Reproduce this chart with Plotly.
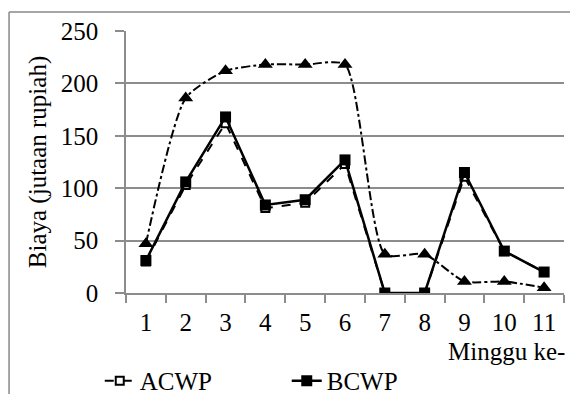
import plotly.graph_objects as go

weeks = ["1", "2", "3", "4", "5", "6", "7", "8", "9", "10", "11"]
acwp = [30, 103, 162, 81, 86, 123, 0, 0, 111, 40, 20]
bcwp = [31, 106, 168, 84, 89, 127, 0, 0, 115, 40, 20]
bcws = [47, 186, 212, 218, 218, 218, 37, 37, 11, 11, 5]
y_ticks = [0, 50, 100, 150, 200, 250]

FONT = "Liberation Serif, DejaVu Serif, serif"
FS = 25
GRID = "#8c8c8c"

fig = go.Figure()
fig.add_trace(go.Scatter(
    x=weeks, y=acwp, name="ACWP", mode="lines+markers",
    line=dict(color="black", width=2, dash="dash"),
    marker=dict(symbol="square", size=8, color="white",
                line=dict(color="black", width=2)),
))
fig.add_trace(go.Scatter(
    x=weeks, y=bcwp, name="BCWP", mode="lines+markers",
    line=dict(color="black", width=2.5),
    marker=dict(symbol="square", size=11, color="black"),
))
fig.add_trace(go.Scatter(
    x=weeks, y=bcws, name="BCWS", mode="lines+markers", showlegend=False,
    line=dict(color="black", width=2, dash="dashdot", shape="spline", smoothing=0.6),
    marker=dict(symbol="triangle-up", size=13, color="black"),
))

fig.update_layout(
    width=570, height=394,
    margin=dict(l=126, r=6, t=31, b=101),
    paper_bgcolor="white", plot_bgcolor="white",
    font=dict(family=FONT, size=FS, color="black"),
    showlegend=True,
    legend=dict(orientation="h", xref="container", yref="container",
                x=0.175, xanchor="left", y=0.033, yanchor="middle",
                font=dict(family=FONT, size=FS), entrywidth=142,
                bgcolor="rgba(0,0,0,0)", itemsizing="trace"),
    xaxis=dict(
        type="category", range=[-0.5, 10.5], tickson="boundaries",
        ticks="outside", ticklen=8, tickcolor=GRID, tickwidth=1.5,
        showline=True, linecolor=GRID, linewidth=1.5, showgrid=False,
        zeroline=False, ticklabelstandoff=6,
        tickfont=dict(family=FONT, size=FS),
    ),
    yaxis=dict(
        range=[0, 250], tickvals=y_ticks,
        ticks="outside", ticklen=9, tickcolor=GRID, tickwidth=1.5,
        showline=True, linecolor=GRID, linewidth=1.5,
        showgrid=True, gridcolor=GRID, gridwidth=1.5, zeroline=False,
        ticklabelstandoff=12,
        tickfont=dict(family=FONT, size=FS),
        title=dict(text="Biaya (jutaan rupiah)", font=dict(family=FONT, size=FS), standoff=7),
    ),
    annotations=[dict(
        text="Minggu ke-", xref="paper", yref="paper", x=1.007, y=-0.225,
        xanchor="right", yanchor="middle", showarrow=False,
        font=dict(family=FONT, size=FS),
    )],
    shapes=[
        dict(type="line", xref="paper", yref="paper", x0=-0.267, x1=1.2,
             y0=1.0725, y1=1.0725, line=dict(color="#888888", width=1.5)),
        dict(type="line", xref="paper", yref="paper", x0=-0.267, x1=-0.267,
             y0=1.0725, y1=-0.5, line=dict(color="#888888", width=1.5)),
    ],
)

fig.write_html("out.html")
